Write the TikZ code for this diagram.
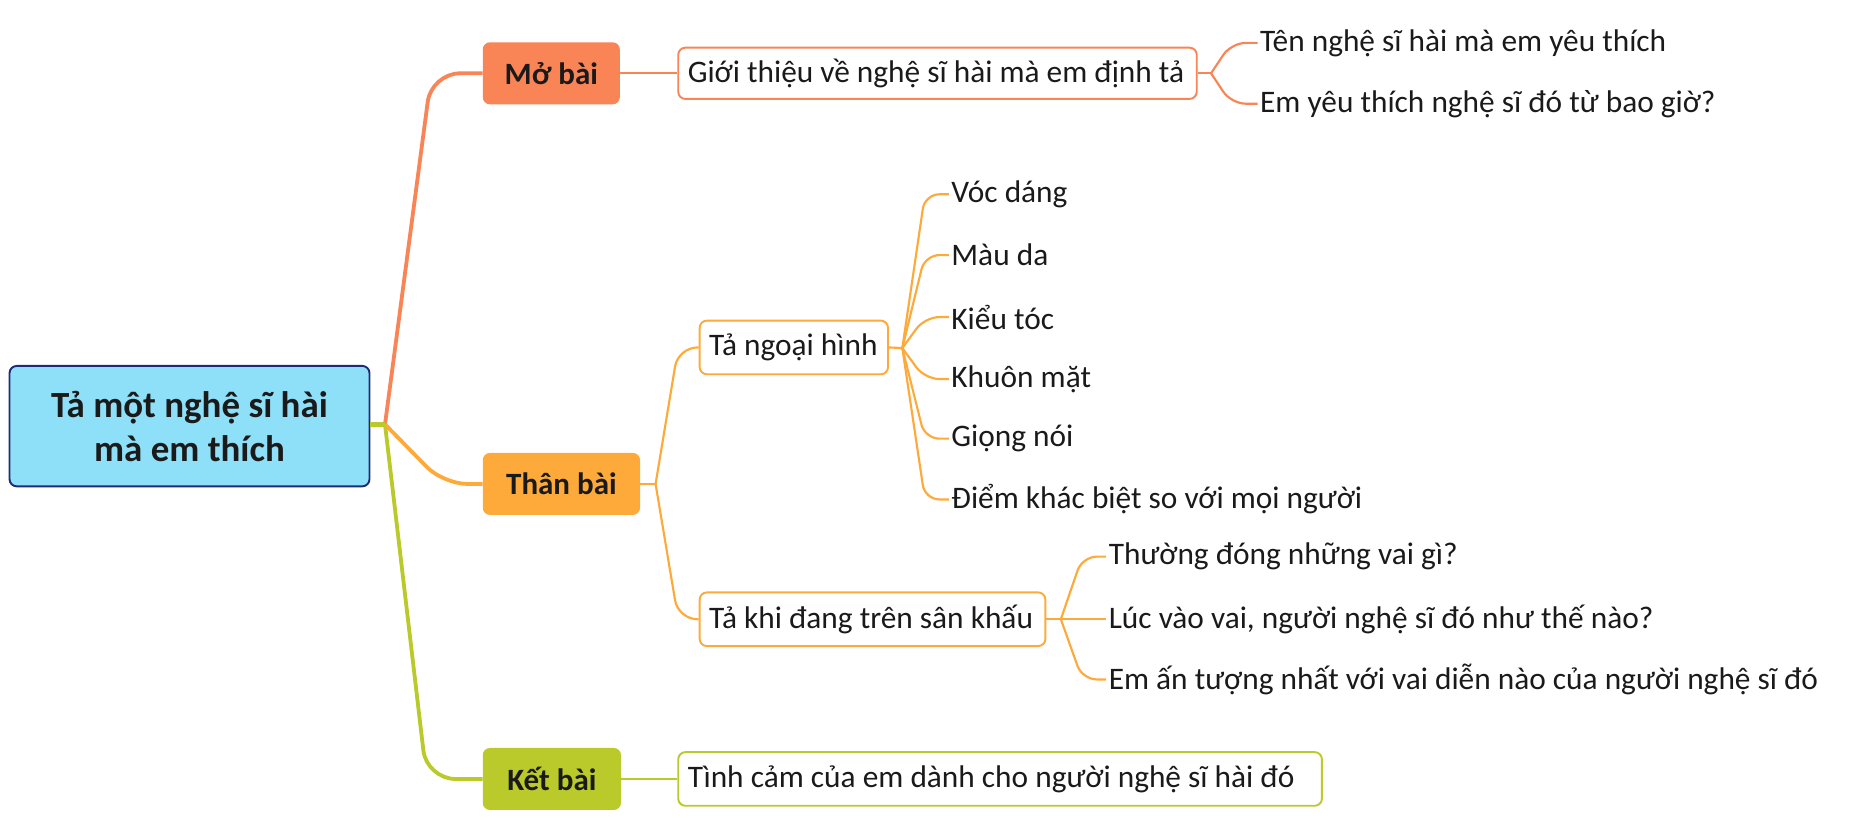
\documentclass[tikz,border=0pt]{standalone}
\usepackage{fontspec}
\setmainfont{Carlito}
\definecolor{cMo}{HTML}{F98456}
\definecolor{cThan}{HTML}{FDAA3A}
\definecolor{cKet}{HTML}{B9CA2A}
\definecolor{cRoot}{HTML}{8EDFF8}
\definecolor{cRootB}{HTML}{1F2A7A}
\definecolor{cTxt}{HTML}{1A1A1A}
\tikzset{
  rootbox/.style={draw=cRootB, line width=1.6pt, fill=cRoot, rounded corners=6pt, align=center, text=cTxt, font=\fontsize{31}{37}\selectfont\bfseries, minimum width=302pt, minimum height=101pt, inner sep=0pt},
  mainbox/.style={draw=none, fill=#1, rounded corners=6pt, text=cTxt, font=\fontsize{26}{30}\selectfont\bfseries, minimum height=52pt, inner sep=0pt},
  subbox/.style={draw=#1, line width=1.6pt, fill=white, rounded corners=6pt, text=cTxt, font=\fontsize{26.3}{30}\selectfont, minimum height=45pt, inner xsep=8pt, inner ysep=0pt, align=flush left},
  leaf/.style={text=cTxt, font=\fontsize{26.3}{30}\selectfont, inner sep=2pt, anchor=west},
  mainline/.style={draw=#1, line width=3.2pt, rounded corners=24pt},
  subline/.style={draw=#1, line width=1.8pt, rounded corners=12pt},
}
\begin{document}
\begin{tikzpicture}[x=1pt,y=-1pt]
\useasboundingbox (0,0) rectangle (1568,693);
% root and main
\node[rootbox] (root) at (159,357.5) {Tả một nghệ sĩ hài\\mà em thích};
\coordinate (J) at (323,356);
\node[mainbox=cMo, minimum width=115pt] (mo) at (462.5,61.5) {Mở bài};
\node[mainbox=cThan, minimum width=132pt] (than) at (471,406) {Thân bài};
\node[mainbox=cKet, minimum width=116pt] (ket) at (463,653.5) {Kết bài};
% main connectors
\draw[mainline=cKet] (J) -- (358,653.5) -- (ket.west);
\draw[mainline=cMo] (J) -- (362,61.5) -- (mo.west);
\draw[mainline=cThan, rounded corners=20pt] (J) -- (372,406) -- (than.west);
\draw[draw=cKet, line width=4pt] (root.east |- J) -- (J);
% Mo bai
\node[subbox=cMo, text width=419pt, minimum height=43pt] (gt) at (786.5,61.5) {Giới thiệu về nghệ sĩ hài mà em định tả};
\draw[subline=cMo] (mo.east) -- (gt.west);
\coordinate (gJ) at (1016,61.5);
\node[leaf] (m1) at (1055,36) {Tên nghệ sĩ hài mà em yêu thích};
\node[leaf] (m2) at (1055,87) {Em yêu thích nghệ sĩ đó từ bao giờ?};
\draw[subline=cMo] (gt.east) -- (gJ);
\draw[subline=cMo] (gJ) -- (1033,36) -- (m1.west);
\draw[subline=cMo] (gJ) -- (1033,87) -- (m2.west);
% Than bai
\coordinate (tJ) at (550,406);
\node[subbox=cThan, text width=142pt] (tn) at (666,291.5) {Tả ngoại hình};
\node[subbox=cThan, text width=274pt] (tk) at (732,519.5) {Tả khi đang trên sân khấu};
\draw[subline=cThan] (than.east) -- (tJ);
\draw[subline=cThan, rounded corners=16pt] (tJ) -- (569,291.5) -- (tn.west);
\draw[subline=cThan, rounded corners=16pt] (tJ) -- (569,519.5) -- (tk.west);
% Ta ngoai hinh children
\coordinate (nJ) at (757,292);
\draw[subline=cThan] (tn.east) -- (nJ);
\node[leaf] (n1) at (796,163) {Vóc dáng};
\node[leaf] (n2) at (796,214) {Màu da};
\node[leaf] (n3) at (796,266) {Kiểu tóc};
\node[leaf] (n4) at (796,318) {Khuôn mặt};
\node[leaf] (n5) at (796,368) {Giọng nói};
\node[leaf] (n6) at (796,419) {Điểm khác biệt so với mọi người};
\foreach \n/\y in {n1/163,n2/214,n3/266,n4/318,n5/368,n6/419}{
  \draw[subline=cThan] (nJ) -- (776,\y) -- (\n.west);
}
% Ta khi dang tren san khau children
\coordinate (kJ) at (890,519.5);
\draw[subline=cThan] (tk.east) -- (kJ);
\node[leaf] (k1) at (928,467) {Thường đóng những vai gì?};
\node[leaf] (k2) at (928,519.5) {Lúc vào vai, người nghệ sĩ đó như thế nào?};
\node[leaf] (k3) at (928,570) {Em ấn tượng nhất với vai diễn nào của người nghệ sĩ đó};
\draw[subline=cThan] (kJ) -- (908,467) -- (k1.west);
\draw[subline=cThan] (kJ) -- (k2.west);
\draw[subline=cThan] (kJ) -- (908,570) -- (k3.west);
% Ket bai
\node[subbox=cKet, text width=524pt] (tc) at (839,653.5) {Tình cảm của em dành cho người nghệ sĩ hài đó};
\draw[subline=cKet] (ket.east) -- (tc.west);
\end{tikzpicture}
\end{document}
